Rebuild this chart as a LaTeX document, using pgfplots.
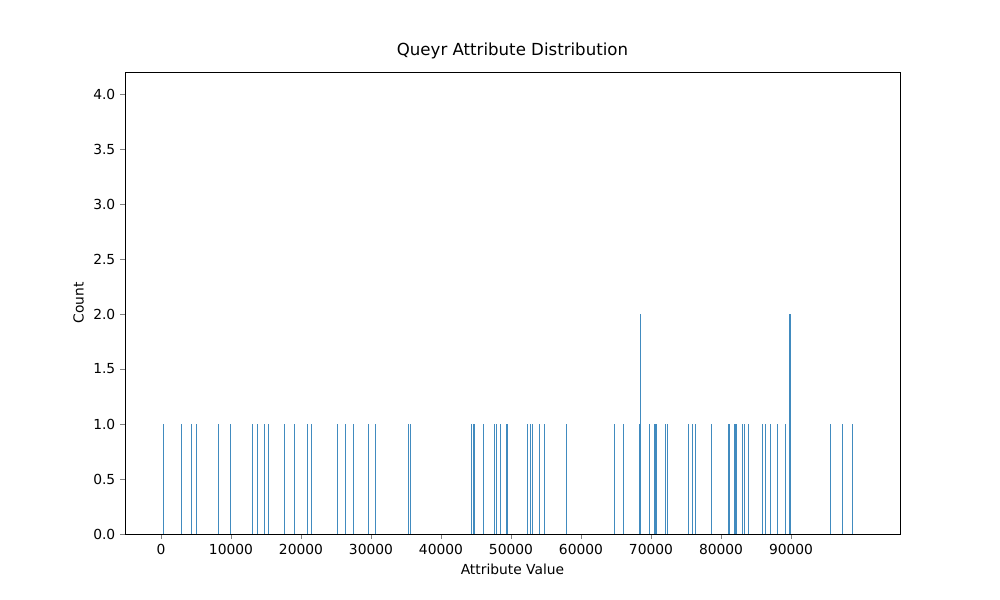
\documentclass[border=0pt]{standalone}
\usepackage{pgfplots}
\pgfplotsset{compat=1.18}
\usepackage{fontspec}
\setmainfont{DejaVu Sans}
\definecolor{mblue}{HTML}{1F77B4}
\begin{document}
\begin{tikzpicture}
\begin{axis}[name=ax, at={(0,0)}, anchor=south west,
  scale only axis, width=7.75in, height=4.62in,
  xmin=-5140, xmax=105570, ymin=0, ymax=4.2,
  xtick={0,10000,...,90000}, ytick={0,0.5,...,4.0},
  scaled ticks=false, /pgf/number format/assume math mode=true,
  xticklabel style={/pgf/number format/1000 sep={}},
  yticklabel style={/pgf/number format/.cd,fixed,fixed zerofill,precision=1},
  tick label style={font=\fontsize{10}{12}\selectfont},
  label style={font=\fontsize{10}{12}\selectfont},
  tick align=outside, tick pos=lower, major tick length=3.5pt,
  xlabel={Attribute Value}, ylabel={Count},
  title={Queyr Attribute Distribution}, title style={font=\fontsize{12}{14}\selectfont},
]
\addplot[ycomb, mblue!85, line width=0.8pt] coordinates {
(380,1)(2900,1)(4380,1)(5050,1)(8190,1)(9900,1)(13050,1)(13760,1)(14810,1)(15330,1)
(17620,1)(19050,1)(20900,1)(21480,1)(25190,1)(26330,1)(27470,1)(29620,1)(30620,1)
(35330,1)(35620,1)(44380,1)(44710,1)(46050,1)(47670,1)(47950,1)(48480,1)(49430,1)
(52420,1)(52800,1)(53130,1)(54120,1)(54830,1)(57960,1)(64790,1)(66070,1)(68340,1)
(68480,2)(69760,1)(70570,1)(70710,1)(72040,1)(72320,1)(75310,1)(75880,1)(76310,1)
(78580,1)(81140,1)(81990,1)(82140,1)(83130,1)(83410,1)(83980,1)(85980,1)(86400,1)
(87110,1)(88110,1)(89250,1)(89860,2)(95640,1)(97350,1)(98770,1)};
\end{axis}
\path ([shift={(-1.25in,-0.66in)}]ax.south west) rectangle ([shift={(1in,0.72in)}]ax.north east);
\end{tikzpicture}
\end{document}
